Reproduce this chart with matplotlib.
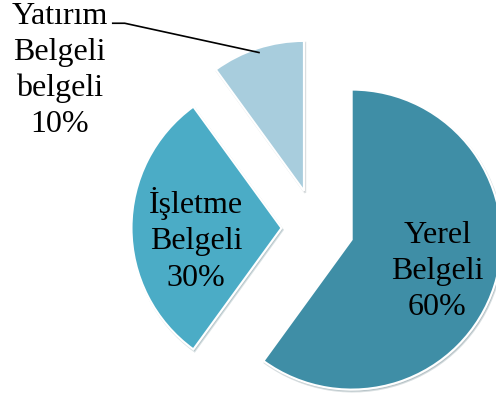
import numpy as np
import matplotlib
matplotlib.use('Agg')
import matplotlib.pyplot as plt

labels = ['Yerel\nBelgeli', 'İşletme\nBelgeli', 'Yatırım\nBelgeli\nbelgeli']
values = [60, 30, 10]
colors = ['#3f8ea6', '#4bacc6', '#a8cddd']
explode = [0.25, 0.23, 0.26]

plt.rcParams['font.family'] = ['Liberation Serif', 'DejaVu Serif']

fig = plt.figure(figsize=(4.96, 4.0), dpi=100)
ax = fig.add_axes([0, 0, 1, 1])

wedges, _ = ax.pie(values, colors=colors, explode=explode, startangle=90,
                   counterclock=False, radius=1.0,
                   wedgeprops=dict(edgecolor='white', linewidth=1.5),
                   shadow=dict(ox=0.006, oy=-0.009, shade=0.5, alpha=0.18))

# inside labels (distance from wedge apex, extra vertical nudge)
for w, lab, v, d, dy in zip(wedges[:2], labels[:2], values[:2], [0.6, 0.57], [-0.03, -0.08]):
    mid = np.deg2rad((w.theta1 + w.theta2) / 2)
    cx, cy = w.center
    ax.text(cx + d * np.cos(mid), cy + d * np.sin(mid) + dy,
            f'{lab}\n{v}%', ha='center', va='center', fontsize=23,
            linespacing=1.32, color='black')

# outside label for the small slice with leader line
w = wedges[2]
mid = np.deg2rad((w.theta1 + w.theta2) / 2)
cx, cy = w.center
ex, ey = cx + 0.97 * np.cos(mid), cy + 0.97 * np.sin(mid)
ax.plot([-1.355, -1.275, ex], [1.365, 1.365, ey], color='black', lw=1.2)
ax.text(-1.71, 1.05, f'{labels[2]}\n{values[2]}%', ha='center', va='center',
        fontsize=23, linespacing=1.32, color='black')

ax.set_xlim(-316 / 150, (496 - 316) / 150)
ax.set_ylim(-(400 - 228) / 150, 228 / 150)
ax.set_aspect('equal')
ax.axis('off')

fig.savefig('out.png', dpi=100)
